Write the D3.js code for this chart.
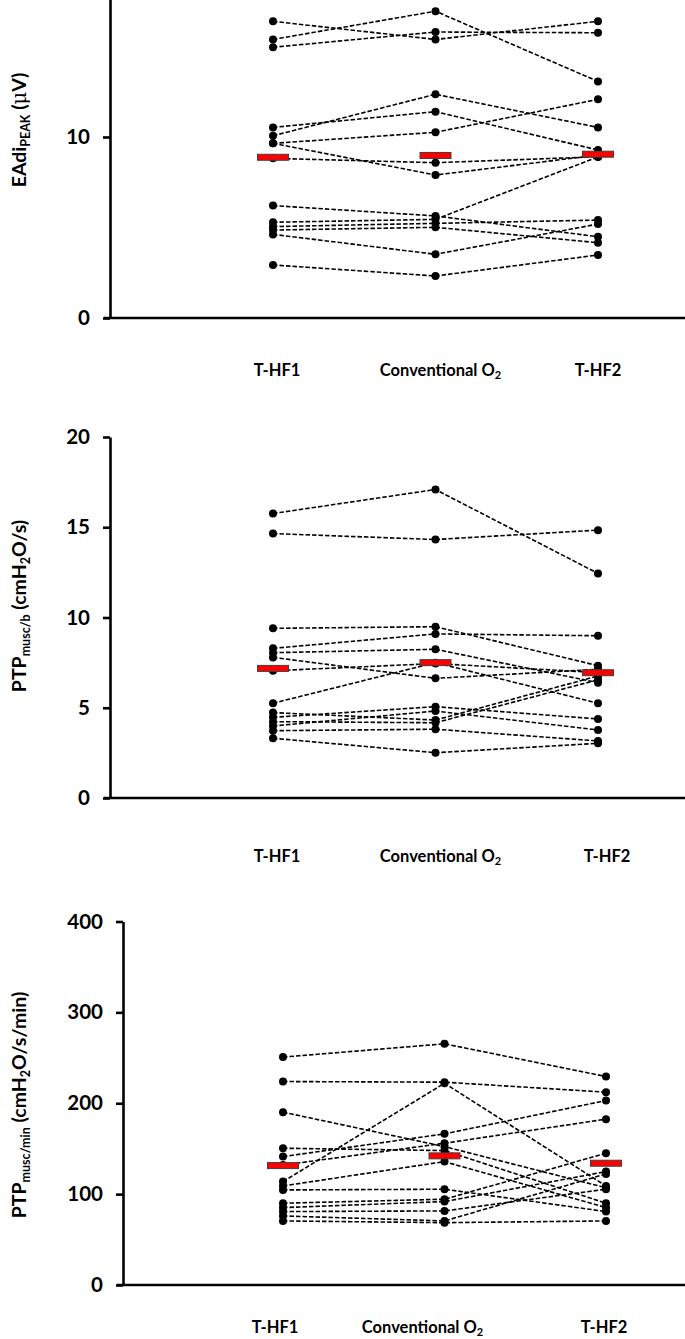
<!DOCTYPE html>
<html><head><meta charset="utf-8">
<script src="https://cdn.jsdelivr.net/npm/d3@7"></script>
<style>body{margin:0;background:#fff}svg{display:block}</style>
</head><body>
<svg id="chart" width="685" height="1339"></svg>
<script>
// ---------- data ----------
const categories = ["T-HF1", "Conventional O2", "T-HF2"];

// Panel 1: EAdi PEAK (µV), one entry per subject
const eadiTHF1 = [16.39, 15.39, 14.96, 10.53, 10.07, 9.65, 9.65, 8.82, 6.21, 5.29, 5.05, 4.86, 4.62, 2.93];
const eadiConv = [15.39, 16.95, 15.80, 11.40, 12.36, 10.26, 7.90, 8.58, 5.64, 5.45, 5.23, 5.01, 3.52, 2.32];
const eadiTHF2 = [16.39, 13.07, 15.76, 9.28, 10.53, 12.08, 9.00, 8.91, 4.49, 8.90, 5.41, 4.16, 5.19, 3.48];
const eadiMean = [8.88, 8.98, 9.05];
const eadiTicks = [0, 10];

// Panel 2: PTPmusc/b (cmH2O/s)
const ptpbTHF1 = [15.76, 14.65, 9.40, 8.29, 8.05, 7.79, 7.05, 5.25, 4.73, 4.47, 4.23, 3.99, 3.73, 3.31];
const ptpbConv = [17.09, 14.32, 9.49, 9.09, 8.24, 6.63, 7.45, 7.50, 4.32, 5.06, 4.17, 4.82, 3.81, 2.51];
const ptpbTHF2 = [12.44, 14.84, 7.33, 8.99, 6.39, 7.13, 6.95, 5.25, 6.76, 4.38, 6.55, 3.77, 3.16, 3.03];
const ptpbMean = [7.18, 7.50, 6.94];
const ptpbTicks = [0, 5, 10, 15, 20];

// Panel 3: PTPmusc/min (cmH2O/s/min)
const ptpmTHF1 = [250.8, 223.9, 190.2, 150.5, 141.3, 132.0, 113.8, 109.0, 104.6, 90.0, 85.2, 80.8, 76.0, 70.5];
const ptpmConv = [265.4, 223.2, 152.3, 147.9, 166.3, 156.0, 222.0, 135.8, 105.4, 94.4, 91.8, 81.5, 70.5, 68.6];
const ptpmTHF2 = [229.4, 212.2, 107.0, 90.0, 203.0, 182.5, 109.0, 85.2, 80.8, 145.0, 124.8, 105.4, 122.2, 70.5];
const ptpmMean = [131.4, 142.1, 134.0];
const ptpmTicks = [0, 100, 200, 300, 400];

// ---------- layout ----------
const FONT = "Lato, 'Open Sans', sans-serif";
const panels = [
  { series: [eadiTHF1, eadiConv, eadiTHF2], mean: eadiMean, ticks: eadiTicks, ymax: 20,
    axisX: 110, baseY: 318, topY: -44, xFrom: 104, catRange: [273, 598],
    labelDx: [4, 5, 0], labelY: 376, titleY: 130,
    title: [["EAdi", 0], ["PEAK", 1], [" (", 0], ["\u03BC", 2], ["V)", 0]] },
  { series: [ptpbTHF1, ptpbConv, ptpbTHF2], mean: ptpbMean, ticks: ptpbTicks, ymax: 20,
    axisX: 110, baseY: 798, topY: 437, xFrom: 104, catRange: [273, 598],
    labelDx: [4, 5, 9], labelY: 862, titleY: 606,
    title: [["PTP", 0], ["musc/b", 1], [" (cmH", 0], ["2", 1], ["O/s)", 0]] },
  { series: [ptpmTHF1, ptpmConv, ptpmTHF2], mean: ptpmMean, ticks: ptpmTicks, ymax: 400,
    axisX: 123, baseY: 1285, topY: 921.5, xFrom: 117, catRange: [283, 606],
    labelDx: [-8, -22, -2], labelY: 1333, titleY: 1105,
    title: [["PTP", 0], ["musc/min", 1], [" (cmH", 0], ["2", 1], ["O/s/min)", 0]] }
];

const svg = d3.select("#chart");

panels.forEach(p => {
  const g = svg.append("g");
  const y = d3.scaleLinear().domain([0, p.ymax]).range([p.baseY, p.topY]);
  const x = d3.scalePoint().domain(categories).range(p.catRange);

  // y axis
  const ax = g.append("g").attr("transform", `translate(${p.axisX},0)`)
    .call(d3.axisLeft(y).tickValues(p.ticks).tickSize(7).tickSizeOuter(0).tickPadding(13).tickFormat(d3.format("d")));
  ax.select(".domain").attr("stroke", "#000").attr("stroke-width", 2.6);
  ax.selectAll(".tick line").attr("stroke", "#000").attr("stroke-width", 2.6);
  ax.selectAll(".tick text").attr("font-family", FONT).attr("font-weight", 700)
    .attr("font-size", 20.5).attr("fill", "#000");

  // x axis baseline
  g.append("line").attr("x1", p.xFrom).attr("x2", 685).attr("y1", p.baseY).attr("y2", p.baseY)
    .attr("stroke", "#000").attr("stroke-width", 2.6);

  // category labels
  categories.forEach((c, i) => {
    const t = g.append("text").attr("x", x(c) + p.labelDx[i]).attr("y", p.labelY)
      .attr("text-anchor", "middle").attr("font-family", FONT).attr("font-weight", 700)
      .attr("font-size", 16.5).attr("fill", "#000");
    if (c === "Conventional O2") {
      t.append("tspan").text("Conventional O");
      t.append("tspan").attr("font-size", 11).attr("dy", 3).text("2");
    } else t.text(c);
  });

  // y title
  const tt = g.append("text").attr("transform", `translate(26,${p.titleY}) rotate(-90)`)
    .attr("text-anchor", "middle").attr("font-family", FONT).attr("font-weight", 700)
    .attr("font-size", 19.5).attr("fill", "#000");
  let shifted = false;
  p.title.forEach(([txt, kind]) => {
    const s = tt.append("tspan").text(txt);
    if (kind === 1) { s.attr("font-size", 12.5).attr("dy", 4); shifted = true; }
    else {
      if (shifted) { s.attr("dy", -4); shifted = false; }
      if (kind === 2) s.attr("font-family", "'DejaVu Serif', serif").attr("font-weight", 400);
    }
  });

  // subject lines
  const subjects = d3.range(p.series[0].length).map(i => p.series.map(s => s[i]));
  const line = d3.line().x((d, i) => x(categories[i])).y(d => y(d));
  g.append("g").selectAll("path").data(subjects).join("path")
    .attr("d", line).attr("fill", "none").attr("stroke", "#000")
    .attr("stroke-width", 1.6).attr("stroke-dasharray", "4.5,2");

  // points
  p.series.forEach((s, ci) => {
    g.append("g").selectAll("circle").data(s).join("circle")
      .attr("cx", x(categories[ci])).attr("cy", d => y(d)).attr("r", 4).attr("fill", "#000");
  });

  // mean bars
  g.append("g").selectAll("rect").data(p.mean).join("rect")
    .attr("x", (d, i) => x(categories[i]) - 15.5).attr("y", d => y(d) - 3)
    .attr("width", 31).attr("height", 6)
    .attr("fill", "#ff0000").attr("stroke", "#404040").attr("stroke-width", 1);
});
</script>
</body></html>
